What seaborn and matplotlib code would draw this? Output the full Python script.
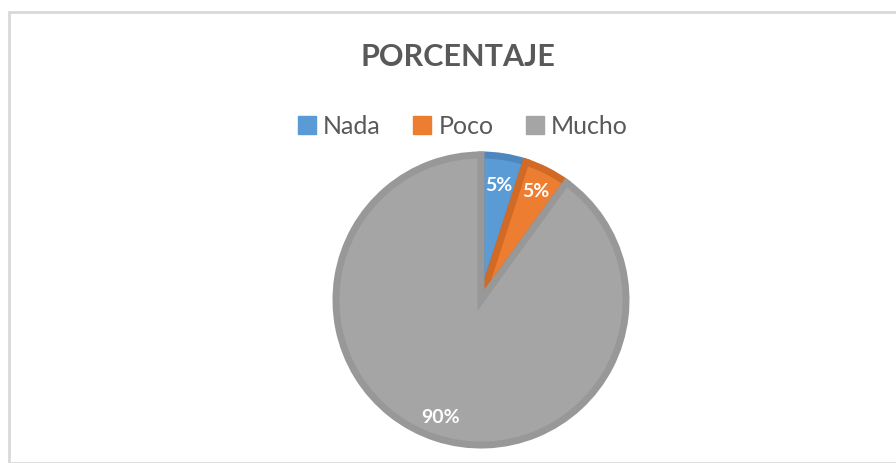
import numpy as np
import seaborn as sns
import matplotlib.pyplot as plt
from matplotlib.patches import Rectangle, Patch

categorias = ["Nada", "Poco", "Mucho"]
porcentajes = [5, 5, 90]
colores = ["#5B9BD5", "#ED7D31", "#A5A5A5"]
bordes = ["#4E87BD", "#D06A25", "#989898"]

sns.set_theme(style="white")
plt.rcParams["font.family"] = ["Lato", "DejaVu Sans"]

W, H = 896, 463
fig = plt.figure(figsize=(W / 100, H / 100), dpi=100)

# marco del grafico
fig.patches.append(Rectangle((9 / W, 0), 1, 1 - 12 / H, transform=fig.transFigure,
                             fill=False, edgecolor="#D9D9D9", linewidth=2))

cx, cy, r = 481, 300, 148
ax = fig.add_axes([(cx - r) / W, (H - cy - r) / H, 2 * r / W, 2 * r / H])
wedges, texts, autotexts = ax.pie(
    porcentajes, colors=colores, startangle=90, counterclock=False,
    radius=0.98, autopct="%d%%", pctdistance=0.8,
    wedgeprops=dict(linewidth=5),
    textprops=dict(color="white", fontsize=14, fontweight="bold"))
for w, b in zip(wedges, bordes):
    w.set_edgecolor(b)
ax.set_xlim(-1, 1)
ax.set_ylim(-1, 1)
ax.set_aspect("equal")
ax.axis("off")

# etiqueta de 90% en posicion "mejor ajuste"
ang = np.deg2rad(-109)
autotexts[2].set_position((0.84 * np.cos(ang), 0.84 * np.sin(ang)))
autotexts[1].set_position((0.82 * np.cos(np.deg2rad(63)), 0.82 * np.sin(np.deg2rad(63))))

fig.text(458 / W, 1 - 57 / H, "PORCENTAJE", ha="center", va="center",
         fontsize=22, fontweight="bold", color="#595959")

handles = [Patch(facecolor=c, edgecolor=c) for c in colores]
fig.legend(handles, categorias, loc="center", bbox_to_anchor=(463 / W, 1 - 126 / H),
           ncol=3, frameon=False, fontsize=18, handlelength=0.7, handleheight=0.7,
           handletextpad=0.3, columnspacing=1.3, labelcolor="#595959")

fig.savefig("out.png", dpi=100)
